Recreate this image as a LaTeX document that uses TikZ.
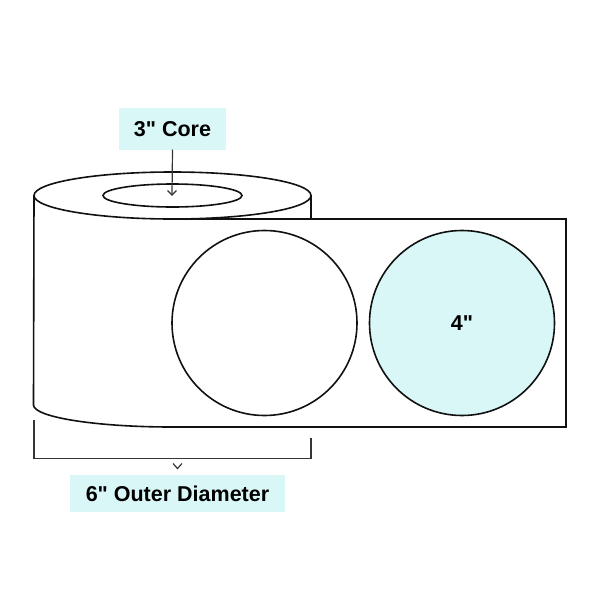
\documentclass[tikz,border=0pt]{standalone}
\usepackage{fontspec}
\setmainfont{Liberation Sans}[Ligatures=TeXOff]
\usetikzlibrary{shapes.geometric}
\definecolor{labelcyan}{HTML}{D9F7F7}
\definecolor{rollline}{HTML}{111111}
\begin{document}
\begin{tikzpicture}[
    x = 1pt,
    y = -1pt,
    >=stealth,
    rim/.style = {ellipse, draw=rollline, line width=1.6pt, minimum width=#1,
              inner sep=0pt, outer sep=0pt},
    label_disc/.style = {circle, draw=rollline, line width=1.6pt, minimum size=185pt,
              inner sep=0pt, outer sep=0pt, text=black, font=\bfseries\fontsize{21.5}{24}\selectfont},
    callout/.style = {fill=labelcyan, minimum height=#1, inner sep=0pt,
              outer sep=0pt, font=\bfseries\fontsize{21.5}{24}\selectfont, text=black},
    edge_line/.style = {draw=rollline, line width=1.6pt},
    thin_line/.style = {draw=rollline!85, line width=1.2pt},
    ]

\useasboundingbox (0,0) rectangle (600,600);

% roll
\node[rim=277pt, minimum height=47pt] (roll_top) at (172.5,195.5){};
\node[rim=139pt, minimum height=23pt] (roll_core) at (172.5,195.5){};

\coordinate (roll_left_low) at (33.5,405);
\coordinate (roll_bottom) at (172,427);
\coordinate (roll_right_low) at (311,219);
\coordinate (web_top_right) at (566,219);
\coordinate (web_bottom_right) at (566,427);

\draw [edge_line] (roll_top.west) -- (roll_left_low);
\draw [edge_line] (roll_top.east) -- (roll_right_low);
\draw [edge_line] (roll_left_low) .. controls (33.5,417) and (95,427) .. (roll_bottom);
\draw [edge_line] (roll_bottom) -- (web_bottom_right) -- (web_top_right) -- (roll_top.south);

% labels on the web
\node[label_disc] (disc_blank) at (264.5,323){};
\node[label_disc, fill=labelcyan] (disc_filled) at (462,323){4"};

% core callout
\node[callout=41.5pt, minimum width=107pt] (core_label) at (172.5,128.75){3" Core};
\coordinate (core_tip) at (172,195);
\draw [thin_line] (core_label.south) -- (core_tip);
\draw [thin_line] (167.5,190.5) -- (core_tip) -- (176.5,190.5);

% outer diameter callout
\coordinate (bracket_left) at (34,420);
\coordinate (bracket_right) at (311,438);
\draw [thin_line] (bracket_left) -- (34,458.5) -- (311,458.5) -- (bracket_right);
\node[callout=37pt, minimum width=215pt] (outer_label) at (177.5,493.5){6" Outer Diameter};
\draw [thin_line] (173,463.5) -- (177.5,468.5) -- (182,463.5);

\end{tikzpicture}
\end{document}
